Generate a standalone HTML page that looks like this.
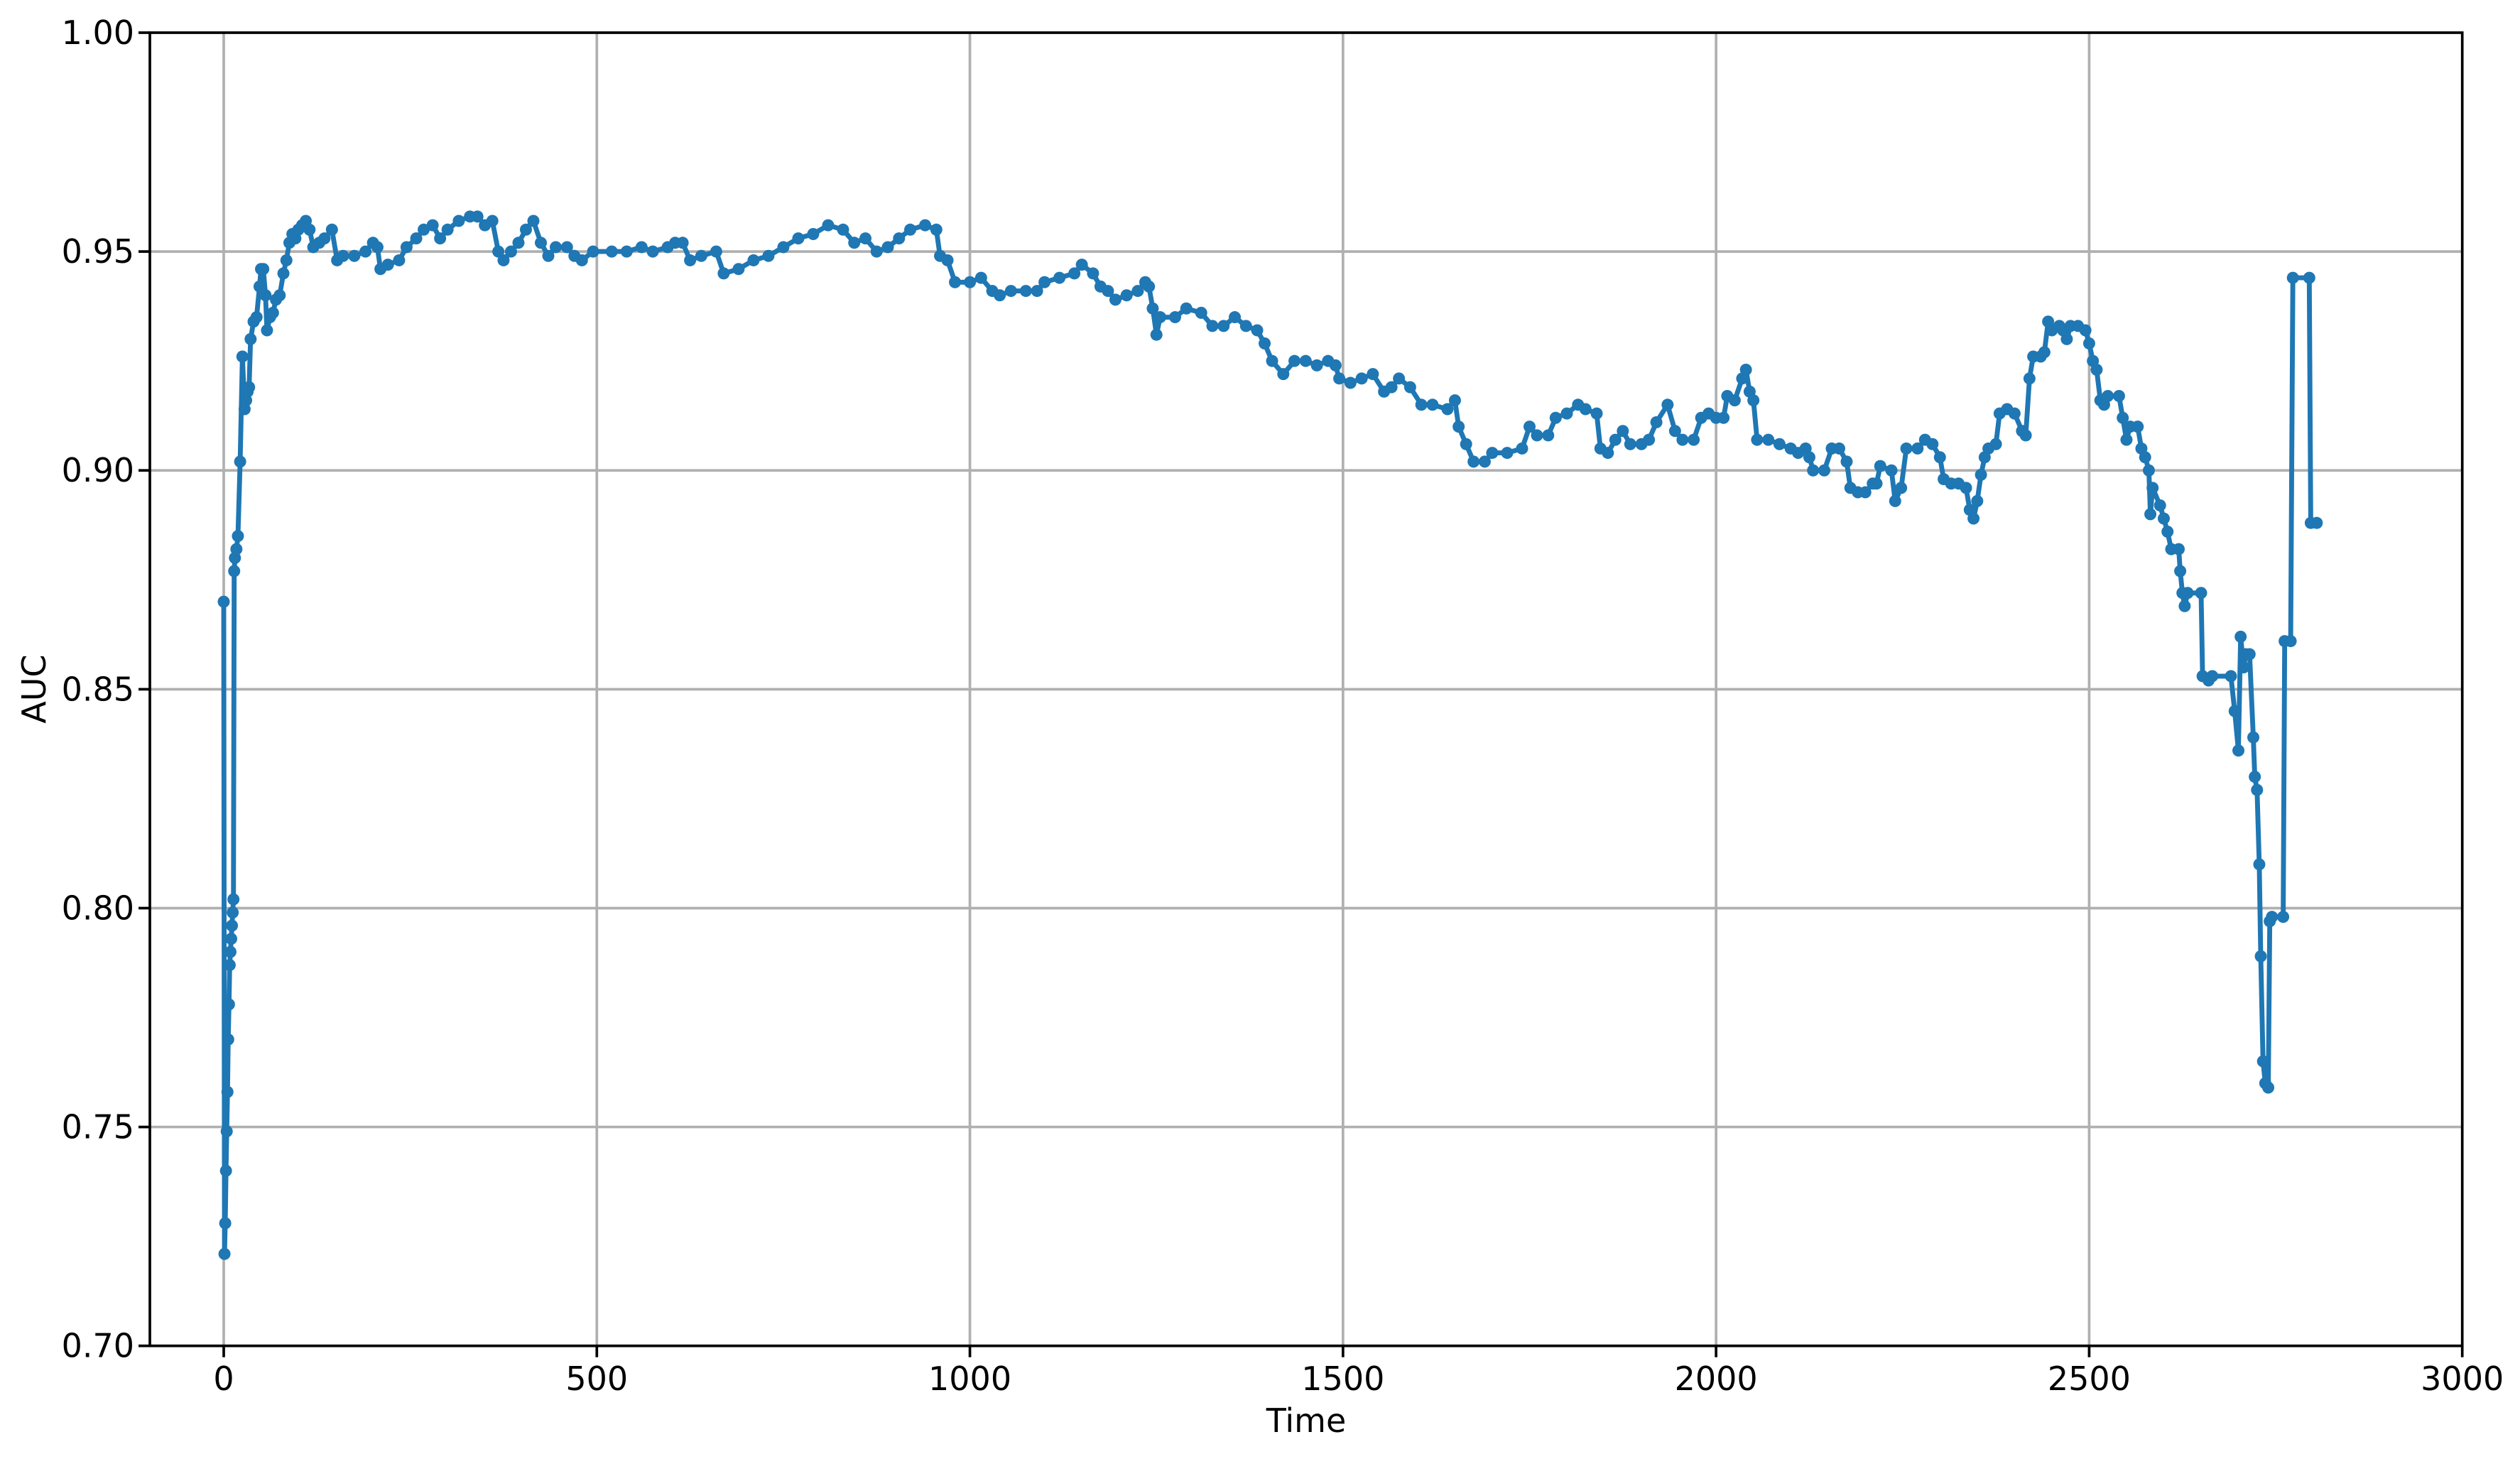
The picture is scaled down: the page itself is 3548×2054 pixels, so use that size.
<!DOCTYPE html>
<html><head><meta charset="utf-8"><style>
html,body{margin:0;padding:0;background:#fff;}
svg{display:block;font-family:"DejaVu Sans","Liberation Sans",sans-serif;}
</style></head><body>
<svg id="chart" width="3548" height="2054" viewBox="0 0 3548 2054" xmlns="http://www.w3.org/2000/svg">
<rect width="3548" height="2054" fill="#fff"/>
<g id="grid"></g>
<g id="ticks"></g>
<g id="series"></g>
<rect x="211" y="46" width="3255.7" height="1848.7" fill="none" stroke="#000" stroke-width="3.7"/>
<text x="1839" y="2016" font-size="46" text-anchor="middle">Time</text>
<text transform="translate(64,970) rotate(-90)" font-size="46" text-anchor="middle">AUC</text>
</svg>
<script>
const times = [0,1,2,3,4,5,6,7,8,9,10,11,12,13,14,15,17,19,22,25,28,30,32,34,36,40,44,48,50,53,56,58,62,66,70,75,80,84,88,92,96,100,105,110,115,120,128,135,145,152,160,175,190,200,206,210,220,235,245,258,268,280,290,300,315,330,340,350,360,368,375,385,395,405,415,425,435,445,460,470,480,495,520,540,560,575,595,605,615,625,640,660,670,690,710,730,750,770,790,810,830,845,860,875,890,905,920,940,955,960,970,980,1000,1015,1030,1040,1055,1075,1090,1100,1120,1140,1150,1165,1175,1185,1195,1210,1225,1235,1240,1245,1250,1255,1275,1290,1310,1325,1340,1355,1370,1385,1395,1405,1420,1435,1450,1465,1480,1490,1495,1510,1525,1540,1555,1565,1575,1590,1605,1620,1640,1650,1655,1665,1675,1690,1700,1720,1740,1750,1760,1775,1785,1800,1815,1825,1840,1845,1855,1865,1875,1885,1900,1910,1920,1935,1945,1955,1970,1980,1990,2000,2010,2015,2025,2035,2040,2045,2050,2055,2070,2085,2100,2110,2120,2125,2130,2145,2155,2165,2175,2180,2190,2200,2210,2215,2220,2235,2240,2248,2255,2270,2280,2290,2300,2305,2315,2325,2335,2340,2345,2350,2355,2360,2365,2375,2380,2390,2400,2410,2415,2420,2425,2435,2440,2445,2450,2460,2465,2470,2475,2485,2495,2500,2505,2510,2515,2520,2525,2540,2545,2550,2555,2565,2570,2575,2580,2582,2585,2595,2600,2605,2610,2620,2622,2625,2628,2632,2650,2652,2660,2665,2690,2695,2700,2703,2707,2710,2715,2720,2722,2725,2728,2730,2733,2736,2740,2742,2745,2760,2762,2770,2773,2795,2797,2805];
const aucValues = [0.870,0.721,0.728,0.740,0.749,0.758,0.770,0.778,0.787,0.790,0.793,0.796,0.799,0.802,0.877,0.880,0.882,0.885,0.902,0.926,0.914,0.916,0.918,0.919,0.930,0.934,0.935,0.942,0.946,0.946,0.940,0.932,0.935,0.936,0.939,0.940,0.945,0.948,0.952,0.954,0.953,0.955,0.956,0.957,0.955,0.951,0.952,0.953,0.955,0.948,0.949,0.949,0.950,0.952,0.951,0.946,0.947,0.948,0.951,0.953,0.955,0.956,0.953,0.955,0.957,0.958,0.958,0.956,0.957,0.950,0.948,0.950,0.952,0.955,0.957,0.952,0.949,0.951,0.951,0.949,0.948,0.950,0.950,0.950,0.951,0.950,0.951,0.952,0.952,0.948,0.949,0.950,0.945,0.946,0.948,0.949,0.951,0.953,0.954,0.956,0.955,0.952,0.953,0.950,0.951,0.953,0.955,0.956,0.955,0.949,0.948,0.943,0.943,0.944,0.941,0.940,0.941,0.941,0.941,0.943,0.944,0.945,0.947,0.945,0.942,0.941,0.939,0.940,0.941,0.943,0.942,0.937,0.931,0.935,0.935,0.937,0.936,0.933,0.933,0.935,0.933,0.932,0.929,0.925,0.922,0.925,0.925,0.924,0.925,0.924,0.921,0.920,0.921,0.922,0.918,0.919,0.921,0.919,0.915,0.915,0.914,0.916,0.910,0.906,0.902,0.902,0.904,0.904,0.905,0.910,0.908,0.908,0.912,0.913,0.915,0.914,0.913,0.905,0.904,0.907,0.909,0.906,0.906,0.907,0.911,0.915,0.909,0.907,0.907,0.912,0.913,0.912,0.912,0.917,0.916,0.921,0.923,0.918,0.916,0.907,0.907,0.906,0.905,0.904,0.905,0.903,0.900,0.900,0.905,0.905,0.902,0.896,0.895,0.895,0.897,0.897,0.901,0.900,0.893,0.896,0.905,0.905,0.907,0.906,0.903,0.898,0.897,0.897,0.896,0.891,0.889,0.893,0.899,0.903,0.905,0.906,0.913,0.914,0.913,0.909,0.908,0.921,0.926,0.926,0.927,0.934,0.932,0.933,0.932,0.930,0.933,0.933,0.932,0.929,0.925,0.923,0.916,0.915,0.917,0.917,0.912,0.907,0.910,0.910,0.905,0.903,0.900,0.890,0.896,0.892,0.889,0.886,0.882,0.882,0.877,0.872,0.869,0.872,0.872,0.853,0.852,0.853,0.853,0.845,0.836,0.862,0.855,0.858,0.858,0.839,0.830,0.827,0.810,0.789,0.765,0.760,0.759,0.797,0.798,0.798,0.861,0.861,0.944,0.944,0.888,0.888];
const xTicks = [0,500,1000,1500,2000,2500,3000];
const xTickLabels = ["0","500","1000","1500","2000","2500","3000"];
const yTicks = [0.70,0.75,0.80,0.85,0.90,0.95,1.00];
const yTickLabels = ["0.70","0.75","0.80","0.85","0.90","0.95","1.00"];

const L=211,R=3466.7,T=46,B=1894.7,X0=315,XK=(R-X0)/3000;
const xs=v=>X0+v*XK;
const ys=v=>B-(v-0.7)/(0.3)*(B-T);
const NS="http://www.w3.org/2000/svg";
function mk(tag,parent,attrs){const e=document.createElementNS(NS,tag);for(const k in attrs)e.setAttribute(k,attrs[k]);parent.appendChild(e);return e;}
const grid=document.getElementById('grid'),ticks=document.getElementById('ticks'),series=document.getElementById('series');
xTicks.forEach((t,i)=>{
  const x=xs(t);
  if(x>L+2&&x<R-2){const g=mk('line',grid,{x1:x,x2:x,y1:T,y2:B,stroke:'#b0b0b0','stroke-width':3.7});
  
  }
  const tk=mk('line',ticks,{x1:x,x2:x,y1:B,y2:B+16,stroke:'#000','stroke-width':3.7});
  
  
  const lb=mk('text',ticks,{x:x,y:1957,'font-size':46,'text-anchor':'middle'});
  lb.textContent=xTickLabels[i];
  
  
});
yTicks.forEach((t,i)=>{
  const y=ys(t);
  if(y>T+2&&y<B-2){const g=mk('line',grid,{x1:L,x2:R,y1:y,y2:y,stroke:'#b0b0b0','stroke-width':3.7});
  
  }
  const tk=mk('line',ticks,{x1:L-16,x2:L,y1:y,y2:y,stroke:'#000','stroke-width':3.7});
  
  
  const lb=mk('text',ticks,{x:189,y:y+16,'font-size':46,'text-anchor':'end'});
  lb.textContent=yTickLabels[i];
  
  
});
const pts=times.map((t,i)=>xs(t).toFixed(1)+','+ys(aucValues[i]).toFixed(1)).join(' ');
const line=mk('polyline',series,{points:pts,fill:'none',stroke:'#1f77b4','stroke-width':6.9,'stroke-linejoin':'round','stroke-linecap':'round'});


times.forEach((t,i)=>{
  const c=mk('circle',series,{cx:xs(t),cy:ys(aucValues[i]),r:8.5,fill:'#1f77b4'});
  
  
});
</script>
</body></html>
